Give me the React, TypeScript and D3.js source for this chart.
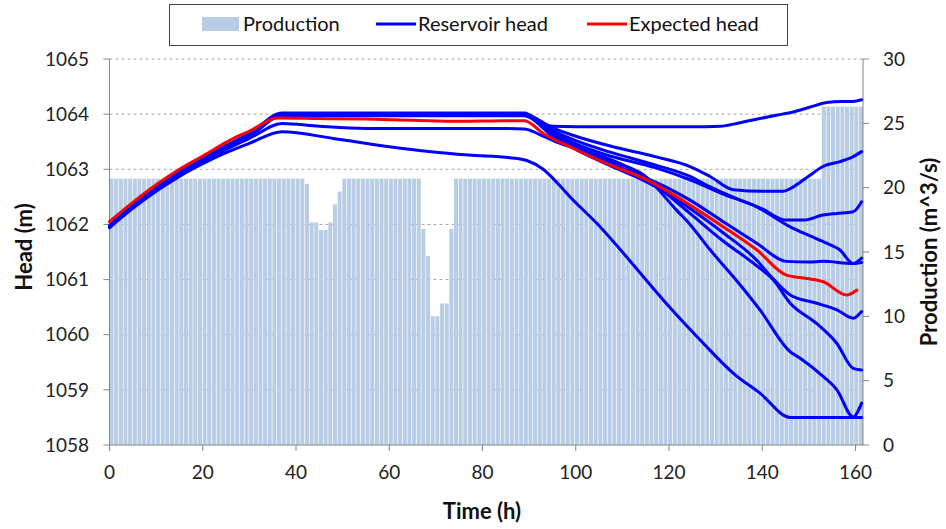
import React from 'react';
import * as d3 from 'd3';

type Pt = [number, number];

const timeTicks = [0, 20, 40, 60, 80, 100, 120, 140, 160];
const headTicks = [1058, 1059, 1060, 1061, 1062, 1063, 1064, 1065];
const prodTicks = [0, 5, 10, 15, 20, 25, 30];

// hourly production (m^3/s), hours 0..161
const production = [
  20.7, 20.7, 20.7, 20.7, 20.7, 20.7, 20.7, 20.7, 20.7, 20.7,
  20.7, 20.7, 20.7, 20.7, 20.7, 20.7, 20.7, 20.7, 20.7, 20.7,
  20.7, 20.7, 20.7, 20.7, 20.7, 20.7, 20.7, 20.7, 20.7, 20.7,
  20.7, 20.7, 20.7, 20.7, 20.7, 20.7, 20.7, 20.7, 20.7, 20.7,
  20.7, 20.7, 20.3, 17.3, 17.3, 16.7, 16.7, 17.3, 18.7, 19.7,
  20.7, 20.7, 20.7, 20.7, 20.7, 20.7, 20.7, 20.7, 20.7, 20.7,
  20.7, 20.7, 20.7, 20.7, 20.7, 20.7, 20.7, 16.8, 14.7, 10.0,
  10.0, 11.0, 11.0, 16.8, 20.7, 20.7, 20.7, 20.7, 20.7, 20.7,
  20.7, 20.7, 20.7, 20.7, 20.7, 20.7, 20.7, 20.7, 20.7, 20.7,
  20.7, 20.7, 20.7, 20.7, 20.7, 20.7, 20.7, 20.7, 20.7, 20.7,
  20.7, 20.7, 20.7, 20.7, 20.7, 20.7, 20.7, 20.7, 20.7, 20.7,
  20.7, 20.7, 20.7, 20.7, 20.7, 20.7, 20.7, 20.7, 20.7, 20.7,
  20.7, 20.7, 20.7, 20.7, 20.7, 20.7, 20.7, 20.7, 20.7, 20.7,
  20.7, 20.7, 20.7, 20.7, 20.7, 20.7, 20.7, 20.7, 20.7, 20.7,
  20.7, 20.7, 20.7, 20.7, 20.7, 20.7, 20.7, 20.7, 20.7, 20.7,
  20.7, 20.7, 20.7, 26.3, 26.3, 26.3, 26.3, 26.3, 26.3, 26.3,
  26.3, 26.3,
];

// reservoir head scenarios [hour, head m]
const headT: Pt[] = [
  [0, 1061.98], [5, 1062.34], [10, 1062.66], [15, 1062.95], [20, 1063.2], [25, 1063.43], [30, 1063.65], [37, 1064.02],
  [45, 1064.02], [55, 1064.02], [65, 1064.02], [75, 1064.02], [85, 1064.02], [89, 1064.02], [92, 1063.88], [95, 1063.78],
  [105, 1063.77], [115, 1063.77], [125, 1063.77], [131, 1063.78], [135, 1063.84], [139.5, 1063.92], [143, 1063.98],
  [146.6, 1064.04], [150, 1064.12], [153.8, 1064.21], [157, 1064.23], [159.5, 1064.23], [161.3, 1064.26],
];
const headA2: Pt[] = [
  [0, 1061.97], [5, 1062.33], [10, 1062.65], [15, 1062.94], [20, 1063.18], [25, 1063.41], [30, 1063.62], [37, 1064.0],
  [45, 1064.0], [55, 1064.0], [65, 1064.0], [75, 1064.0], [85, 1064.0], [89, 1064.0], [95, 1063.75], [100, 1063.6],
  [107, 1063.43], [117, 1063.23], [124.5, 1063.05], [128.8, 1062.87], [133.8, 1062.63], [140, 1062.6], [144.5, 1062.6],
  [146, 1062.65], [150, 1062.88], [153, 1063.05], [156.7, 1063.14], [159.5, 1063.23], [161.3, 1063.32],
];
const headA3: Pt[] = [
  [0, 1061.97], [5, 1062.32], [10, 1062.64], [15, 1062.93], [20, 1063.17], [25, 1063.4], [30, 1063.61], [37, 1063.99],
  [45, 1063.99], [55, 1063.99], [65, 1063.99], [75, 1063.99], [85, 1063.99], [89, 1063.99], [95, 1063.7], [100, 1063.52],
  [107, 1063.32], [117, 1063.08], [124.5, 1062.87], [128.8, 1062.68], [135, 1062.45], [140, 1062.28], [145, 1062.08],
  [149, 1062.08], [153, 1062.17], [156, 1062.2], [159.5, 1062.23], [161.3, 1062.41],
];
const headB1: Pt[] = [
  [0, 1061.96], [5, 1062.32], [10, 1062.63], [15, 1062.92], [20, 1063.16], [25, 1063.39], [30, 1063.6], [37, 1063.98],
  [45, 1063.98], [55, 1063.98], [65, 1063.98], [75, 1063.98], [85, 1063.98], [89, 1063.98], [95, 1063.66], [100, 1063.46],
  [107, 1063.25], [117, 1063.03], [124.5, 1062.81], [131.6, 1062.55], [138.8, 1062.32], [145.9, 1061.96], [150, 1061.8],
  [153.8, 1061.66], [156.6, 1061.54], [159.5, 1061.29], [161.3, 1061.39],
];
const headB2: Pt[] = [
  [0, 1061.96], [5, 1062.31], [10, 1062.63], [15, 1062.91], [20, 1063.15], [25, 1063.38], [30, 1063.59], [37, 1063.98],
  [45, 1063.98], [55, 1063.98], [65, 1063.98], [75, 1063.98], [85, 1063.98], [89, 1063.98], [95, 1063.62], [100, 1063.38],
  [107, 1063.12], [114.5, 1062.86], [120, 1062.65], [124.5, 1062.44], [131.6, 1062.05], [138.8, 1061.66], [145.2, 1061.33],
  [150, 1061.32], [153, 1061.33], [159.5, 1061.29], [161.3, 1061.31],
];
const headC: Pt[] = [
  [0, 1061.97], [5, 1062.32], [10, 1062.64], [15, 1062.92], [20, 1063.16], [25, 1063.39], [30, 1063.6], [37, 1063.97],
  [45, 1063.97], [55, 1063.97], [65, 1063.97], [75, 1063.97], [85, 1063.97], [89, 1063.97], [95, 1063.6], [100, 1063.36],
  [107, 1063.08], [114.5, 1062.8], [120, 1062.55], [124.5, 1062.29], [131.6, 1061.85], [138.8, 1061.35], [141.6, 1061.08],
  [146, 1060.72], [151.7, 1060.57], [156, 1060.45], [159.5, 1060.3], [161.3, 1060.42],
];
const headD: Pt[] = [
  [0, 1061.96], [5, 1062.31], [10, 1062.62], [15, 1062.9], [20, 1063.13], [25, 1063.36], [30, 1063.56], [37, 1063.83],
  [45, 1063.78], [55, 1063.74], [65, 1063.74], [75, 1063.74], [85, 1063.74], [89, 1063.73], [93, 1063.6], [96.6, 1063.47],
  [103.8, 1063.29], [110.9, 1063.05], [117, 1062.72], [124.5, 1062.2], [131.6, 1061.7], [138.8, 1061.25], [142.4, 1060.99],
  [146, 1060.57], [151.7, 1060.2], [156, 1059.84], [159.5, 1059.39], [161.3, 1059.36],
];
const headE: Pt[] = [
  [0, 1061.97], [5, 1062.33], [10, 1062.65], [15, 1062.93], [20, 1063.17], [25, 1063.4], [30, 1063.62], [37, 1064.0],
  [45, 1064.0], [55, 1064.0], [65, 1064.0], [75, 1064.0], [85, 1064.0], [89, 1064.0], [95, 1063.66], [100, 1063.42],
  [107, 1063.16], [114.5, 1062.9], [121.7, 1062.25], [124.5, 1062.0], [128.8, 1061.54], [133.8, 1061.05], [139.5, 1060.45],
  [146, 1059.69], [148.2, 1059.57], [153.1, 1059.24], [156, 1059.0], [159.5, 1058.51], [161.3, 1058.76],
];
const headL1: Pt[] = [
  [0, 1061.94], [5, 1062.29], [10, 1062.6], [15, 1062.87], [20, 1063.1], [25, 1063.3], [30, 1063.47], [37, 1063.68],
  [48, 1063.56], [60, 1063.41], [69, 1063.32], [77, 1063.26], [87, 1063.2], [89.5, 1063.16], [93, 1063.0], [96.6, 1062.7],
  [99, 1062.48], [104.5, 1062.02], [111, 1061.4], [113, 1061.2], [120, 1060.51], [127.4, 1059.84], [133.8, 1059.3],
  [139.5, 1058.94], [146, 1058.5], [161.3, 1058.5],
];
const reservoirHeads: Pt[][] = [headT, headA2, headA3, headB1, headB2, headC, headD, headE, headL1];

const expectedHead: Pt[] = [
  [0, 1062.05], [5, 1062.4], [10, 1062.72], [15, 1063.0], [20, 1063.24], [26.6, 1063.56], [30, 1063.69], [36, 1063.93],
  [45, 1063.92], [55, 1063.91], [65, 1063.89], [75, 1063.87], [85, 1063.88], [89, 1063.88], [93, 1063.65], [100.2, 1063.35],
  [107.3, 1063.08], [114.5, 1062.84], [121.7, 1062.5], [124.5, 1062.35], [131.6, 1061.96], [138.8, 1061.54], [145.2, 1061.08],
  [149.5, 1061.02], [153.1, 1060.96], [158.1, 1060.72], [160.3, 1060.81],
];

const FONT = "Lato, 'Open Sans', sans-serif";
const BAR = '#b9cde5';
const AXIS = '#868686';

export default function App() {
  const W = 946, H = 529;
  const L = 109.5, R = 863, T = 59, B = 445;
  const x = d3.scaleLinear().domain([0, 161.6]).range([L, R]);
  const xb = d3.scaleBand<number>().domain(production.map((_, i) => i)).range([L, R]).paddingInner(0.14);
  const yH = d3.scaleLinear().domain([1058, 1065]).range([B, T]);
  const yP = d3.scaleLinear().domain([0, 30]).range([B, T]);
  const line = d3.line<Pt>().x(d => x(d[0])).y(d => yH(d[1])).curve(d3.curveMonotoneX);

  return (
    <svg width={W} height={H} style={{ position: 'absolute', left: 0, top: 0, background: '#fff' }} fontFamily={FONT}>
      <rect x={0} y={0} width={W} height={H} fill="#fff" />
      {/* gridlines */}
      {headTicks.slice(1).map(t => (
        <line key={'g' + t} x1={L} x2={R} y1={yH(t)} y2={yH(t)} stroke="#a6a6a6" strokeWidth={1} strokeDasharray="3,3" />
      ))}
      {/* bars */}
      {production.map((v, i) => (
        <rect key={'b' + i} x={xb(i)} width={xb.bandwidth()} y={yP(v)} height={B - yP(v)} fill={BAR} />
      ))}
      {/* axes */}
      <line x1={L} x2={L} y1={T} y2={B} stroke={AXIS} strokeWidth={1} />
      <line x1={R} x2={R} y1={T} y2={B} stroke={AXIS} strokeWidth={1} />
      <line x1={L} x2={R} y1={B} y2={B} stroke={AXIS} strokeWidth={1} />
      {headTicks.map(t => (
        <g key={'lh' + t}>
          <line x1={L - 6} x2={L} y1={yH(t)} y2={yH(t)} stroke={AXIS} />
          <text x={89} y={yH(t)} dy="0.35em" textAnchor="end" fontSize={19} fill="#222">{t}</text>
        </g>
      ))}
      {prodTicks.map(t => (
        <g key={'rp' + t}>
          <line x1={R} x2={R + 6} y1={yP(t)} y2={yP(t)} stroke={AXIS} />
          <text x={883} y={yP(t)} dy="0.35em" textAnchor="start" fontSize={19} fill="#222">{t}</text>
        </g>
      ))}
      {timeTicks.map(t => (
        <g key={'bt' + t}>
          <line x1={x(t)} x2={x(t)} y1={B} y2={B + 6} stroke={AXIS} />
          <text x={x(t)} y={479} textAnchor="middle" fontSize={19} fill="#222">{t}</text>
        </g>
      ))}
      {/* lines */}
      {reservoirHeads.map((d, i) => (
        <path key={'r' + i} d={line(d) || ''} fill="none" stroke="#0000ff" strokeWidth={3} strokeLinejoin="round" strokeLinecap="round" />
      ))}
      <path d={line(expectedHead) || ''} fill="none" stroke="#ff0000" strokeWidth={3} strokeLinejoin="round" strokeLinecap="round" />
      {/* axis titles */}
      <text x={482} y={519} textAnchor="middle" fontSize={22} fontWeight="bold" fill="#111">Time (h)</text>
      <text transform="translate(32,247) rotate(-90)" textAnchor="middle" fontSize={22} fontWeight="bold" fill="#111">Head (m)</text>
      <text transform="translate(937,252) rotate(-90)" textAnchor="middle" fontSize={22} fontWeight="bold" fill="#111">Production (m^3/s)</text>
      {/* legend */}
      <rect x={169.5} y={4.5} width={618} height={41} fill="#fff" stroke="#444" strokeWidth={1} />
      <rect x={202} y={17} width={37} height={14} fill={BAR} />
      <text x={243} y={31} fontSize={20} fill="#111">Production</text>
      <line x1={376} x2={416} y1={24} y2={24} stroke="#0000ff" strokeWidth={3} />
      <text x={418} y={31} fontSize={20} fill="#111">Reservoir head</text>
      <line x1={587} x2={627} y1={24} y2={24} stroke="#ff0000" strokeWidth={3} />
      <text x={629} y={31} fontSize={20} fill="#111">Expected head</text>
    </svg>
  );
}
